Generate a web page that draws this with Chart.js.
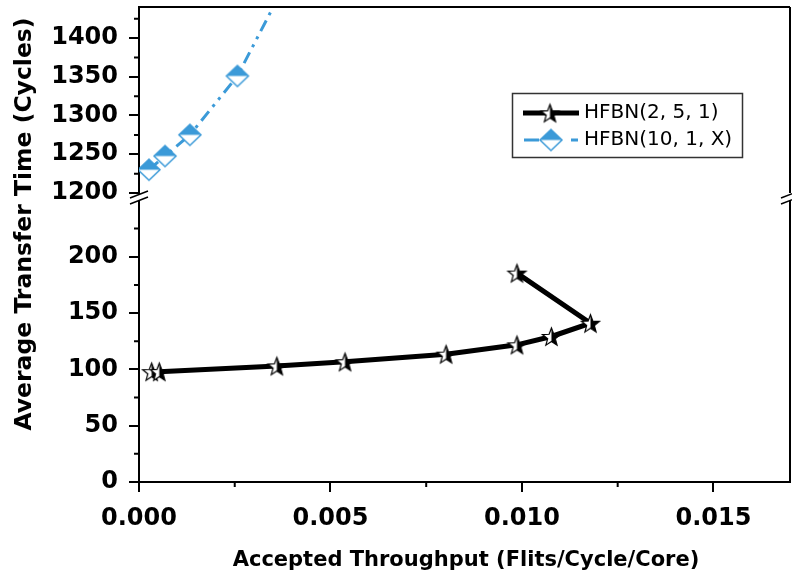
<!DOCTYPE html>
<html>
<head>
<meta charset="utf-8">
<script src="https://cdn.jsdelivr.net/npm/chart.js@4/dist/chart.umd.min.js"></script>
<style>
  html, body { margin: 0; padding: 0; background: #fff; }
</style>
</head>
<body>
<canvas id="c" width="792" height="578"></canvas>
<script>
// HFBN(2, 5, 1) -- lower axis
const hfbn251X = [0.00033, 0.00053, 0.0036, 0.00538, 0.00802, 0.00987, 0.01077, 0.01179, 0.00987];
const hfbn251Y = [98, 98, 103, 106.7, 113.5, 121.8, 129.2, 141, 185.5];
// HFBN(10, 1, X) -- upper axis, last point runs off the top
const hfbn101X = [0.00026, 0.00068, 0.00133, 0.00257, 0.0040];
const hfbn101Y = [1230, 1247.7, 1275, 1351, 1487];

const seriesNames = ['HFBN(2, 5, 1)', 'HFBN(10, 1, X)'];
const xTicks = [0, 0.005, 0.010, 0.015];
const yLowTicks = [0, 50, 100, 150, 200];
const yHighTicks = [1200, 1250, 1300, 1350, 1400];
const xMinor = [0.0025, 0.0075, 0.0125];
const yLowMinor = [25, 75, 125, 175, 225];
const yHighMinor = [1225, 1275, 1325, 1375, 1425];

const BLUE = '#3b9ad8';
const FONT = "'DejaVu Sans'";

function starImg(r) {
  const s = Math.ceil(r * 2 + 4);
  const c = document.createElement('canvas');
  c.width = c.height = s;
  const g = c.getContext('2d');
  const cx = s / 2, cy = s / 2 + 1;
  g.beginPath();
  for (let i = 0; i < 10; i++) {
    const rad = i % 2 ? r * 0.42 : r;
    const ang = -Math.PI / 2 + i * Math.PI / 5;
    g.lineTo(cx + rad * Math.cos(ang), cy + rad * Math.sin(ang));
  }
  g.closePath();
  g.fillStyle = '#fff';
  g.fill();
  g.save();
  g.clip();
  g.fillStyle = '#000';
  g.fillRect(cx, 0, s, s);
  g.restore();
  g.lineWidth = 1.2;
  g.strokeStyle = '#000';
  g.stroke();
  return c;
}

function diamondImg(w, h) {
  const c = document.createElement('canvas');
  c.width = w + 4; c.height = h + 4;
  const g = c.getContext('2d');
  const cx = c.width / 2, cy = c.height / 2;
  g.beginPath();
  g.moveTo(cx, cy - h / 2);
  g.lineTo(cx + w / 2, cy);
  g.lineTo(cx, cy + h / 2);
  g.lineTo(cx - w / 2, cy);
  g.closePath();
  g.fillStyle = '#fff';
  g.fill();
  g.save();
  g.clip();
  g.fillStyle = BLUE;
  g.fillRect(0, 0, c.width, cy);
  g.restore();
  g.lineWidth = 1.5;
  g.strokeStyle = BLUE;
  g.stroke();
  return c;
}

const star = starImg(9.5);
const diamond = diamondImg(22, 21);

const decor = {
  id: 'decor',
  afterDraw(chart) {
    const { ctx, chartArea: a, scales } = chart;
    const lo = scales.y, hi = scales.y2, x = scales.x;
    ctx.save();
    ctx.strokeStyle = '#000';
    ctx.lineWidth = 2;

    // minor ticks
    ctx.beginPath();
    xMinor.forEach(v => {
      const px = x.getPixelForValue(v);
      ctx.moveTo(px, a.bottom); ctx.lineTo(px, a.bottom + 5);
    });
    yLowMinor.forEach(v => {
      const py = lo.getPixelForValue(v);
      ctx.moveTo(a.left - 5, py); ctx.lineTo(a.left, py);
    });
    yHighMinor.forEach(v => {
      const py = hi.getPixelForValue(v);
      ctx.moveTo(a.left - 5, py); ctx.lineTo(a.left, py);
    });
    // frame top + right
    ctx.moveTo(a.left, hi.top); ctx.lineTo(a.right, hi.top);
    ctx.moveTo(a.right, hi.top); ctx.lineTo(a.right, hi.bottom);
    ctx.moveTo(a.right, lo.top); ctx.lineTo(a.right, lo.bottom);
    ctx.stroke();

    // axis break marks
    ctx.lineWidth = 1.5;
    ctx.beginPath();
    [a.left, a.right].forEach(bx => {
      ctx.moveTo(bx - 9, hi.bottom + 5); ctx.lineTo(bx + 9, hi.bottom - 2);
      ctx.moveTo(bx - 9, lo.top + 3); ctx.lineTo(bx + 9, lo.top - 4);
    });
    ctx.stroke();

    // axis titles
    ctx.fillStyle = '#000';
    ctx.textAlign = 'center';
    ctx.textBaseline = 'middle';
    ctx.font = 'bold 21px ' + FONT;
    ctx.fillText('Accepted Throughput (Flits/Cycle/Core)', 466, 561);
    ctx.save();
    ctx.translate(25, 224);
    ctx.rotate(-Math.PI / 2);
    ctx.font = 'bold 23.5px ' + FONT;
    ctx.fillText('Average Transfer Time (Cycles)', 0, 0);
    ctx.restore();

    // legend
    ctx.lineWidth = 1.5;
    ctx.strokeStyle = '#333';
    ctx.strokeRect(512.5, 93.5, 230, 64);
    ctx.strokeStyle = '#000';
    ctx.lineWidth = 5;
    ctx.beginPath();
    ctx.moveTo(523, 113); ctx.lineTo(579, 113);
    ctx.stroke();
    ctx.drawImage(star, 550 - star.width / 2, 113 - star.height / 2);
    ctx.strokeStyle = BLUE;
    ctx.lineWidth = 3;
    ctx.beginPath();
    ctx.moveTo(524, 140); ctx.lineTo(539, 140);
    ctx.moveTo(571, 140); ctx.lineTo(578, 140);
    ctx.stroke();
    ctx.drawImage(diamond, 551 - diamond.width / 2, 140 - diamond.height / 2);
    ctx.textAlign = 'left';
    ctx.font = '20px ' + FONT;
    ctx.fillText(seriesNames[0], 584, 113);
    ctx.fillText(seriesNames[1], 584, 140);
    ctx.restore();
  }
};

const tickFont = { family: FONT, weight: 'bold', size: 24 };
const axisGrid = { drawOnChartArea: false, tickLength: 10, color: '#000', lineWidth: 2 };
const axisBorder = { color: '#000', width: 2 };
const fitY = s => { s.width = 139; s.paddingTop = 0; s.paddingBottom = 0; };
const setTicks = vals => s => { s.ticks = vals.map(v => ({ value: v })); };

new Chart(document.getElementById('c'), {
  type: 'scatter',
  data: {
    datasets: [
      {
        label: seriesNames[0],
        data: hfbn251X.map((x, i) => ({ x, y: hfbn251Y[i] })),
        yAxisID: 'y',
        showLine: true,
        borderColor: '#000',
        borderWidth: 5,
        tension: 0,
        pointStyle: star,
        pointRadius: 9
      },
      {
        label: seriesNames[1],
        data: hfbn101X.map((x, i) => ({ x, y: hfbn101Y[i] })),
        yAxisID: 'y2',
        showLine: true,
        borderColor: BLUE,
        borderWidth: 3,
        borderDash: [12, 6, 3, 6, 3, 6],
        tension: 0,
        pointStyle: diamond,
        pointRadius: hfbn101X.map((v, i) => i === hfbn101X.length - 1 ? 0 : 10)
      }
    ]
  },
  options: {
    responsive: false,
    animation: false,
    devicePixelRatio: 1,
    layout: { autoPadding: false, padding: { top: 7, right: 2, left: 0, bottom: 0 } },
    plugins: { legend: { display: false }, tooltip: { enabled: false } },
    scales: {
      x: {
        type: 'linear',
        position: 'bottom',
        min: 0,
        max: 0.017,
        grid: axisGrid,
        border: axisBorder,
        afterBuildTicks: setTicks(xTicks),
        afterFit: s => { s.height = 96; s.paddingLeft = 0; s.paddingRight = 0; },
        ticks: {
          autoSkip: false,
          maxRotation: 0,
          color: '#000',
          font: tickFont,
          padding: 12,
          callback: v => v.toFixed(3)
        }
      },
      y: {
        type: 'linear',
        axis: 'y',
        position: 'left',
        stack: 'left',
        stackWeight: 281,
        min: 0,
        max: 249.5,
        grid: axisGrid,
        border: axisBorder,
        afterBuildTicks: setTicks(yLowTicks),
        afterFit: fitY,
        ticks: { autoSkip: false, color: '#000', font: tickFont, padding: 11, callback: v => String(v) }
      },
      gap: {
        type: 'linear',
        axis: 'y',
        position: 'left',
        stack: 'left',
        stackWeight: 8,
        display: true,
        grid: { display: false },
        border: { display: false },
        ticks: { display: false },
        afterFit: fitY
      },
      y2: {
        type: 'linear',
        axis: 'y',
        position: 'left',
        stack: 'left',
        stackWeight: 186,
        min: 1200,
        max: 1440,
        grid: axisGrid,
        border: axisBorder,
        afterBuildTicks: setTicks(yHighTicks),
        afterFit: fitY,
        ticks: { autoSkip: false, color: '#000', font: tickFont, padding: 11, callback: v => String(v) }
      }
    }
  },
  plugins: [decor]
});
</script>
</body>
</html>
